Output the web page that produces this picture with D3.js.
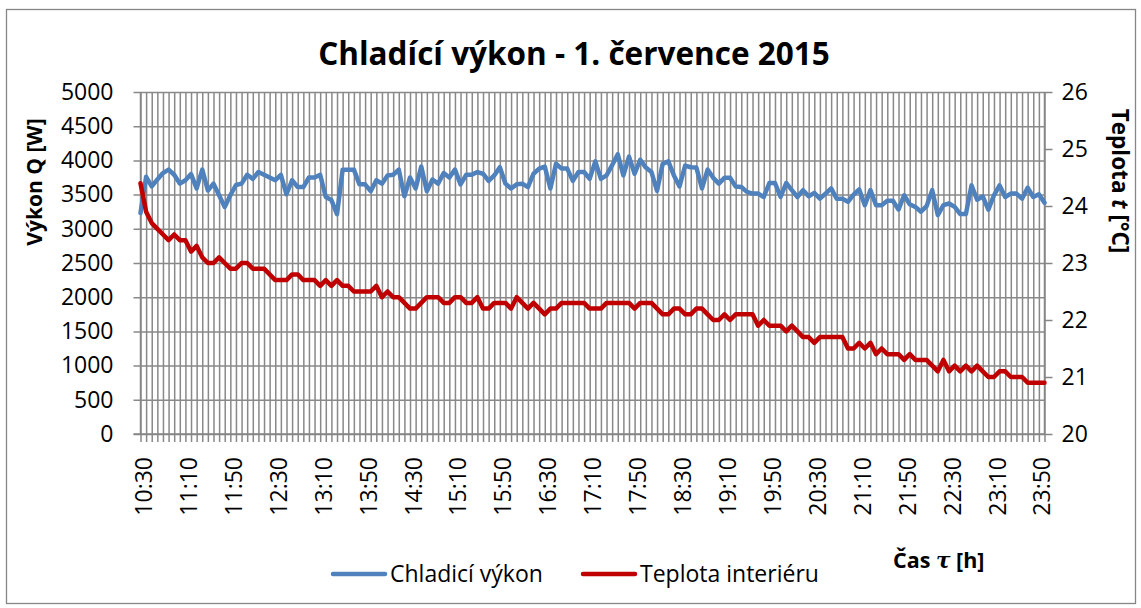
<!DOCTYPE html>
<html>
<head>
<meta charset="utf-8">
<script src="https://cdn.jsdelivr.net/npm/d3@7"></script>
<style>
  body { margin: 0; background: #fff; }
  svg { display: block; }
  text { font-family: "Open Sans", "Noto Sans", sans-serif; fill: #000; }
</style>
</head>
<body>
<svg id="chart" width="1141" height="608"></svg>
<script>
// Measurement every 5 minutes, 10:30 – 23:55
const firstMinute = 10 * 60 + 30;
const stepMinutes = 5;
const pointCount = 162;
const times = d3.range(pointCount).map(i => {
  const m = firstMinute + i * stepMinutes;
  return `${Math.floor(m / 60)}:${String(m % 60).padStart(2, "0")}`;
});

const timeTicks = ["10:30","11:10","11:50","12:30","13:10","13:50","14:30","15:10","15:50","16:30",
  "17:10","17:50","18:30","19:10","19:50","20:30","21:10","21:50","22:30","23:10","23:50"];

// Chladicí výkon [W]
const coolingPower = [
  3230,3760,3620,3720,3815,3865,3790,3660,3710,3800,
  3590,3865,3560,3660,3490,3320,3490,3640,3660,3790,
  3730,3830,3790,3750,3710,3790,3505,3710,3610,3610,
  3750,3750,3790,3465,3420,3215,3865,3865,3865,3650,
  3650,3550,3710,3660,3780,3790,3865,3475,3750,3590,
  3910,3550,3720,3660,3815,3750,3865,3650,3790,3790,
  3830,3805,3700,3780,3900,3660,3590,3650,3660,3610,
  3805,3880,3910,3590,3950,3880,3880,3700,3830,3830,
  3730,3985,3730,3780,3930,4090,3780,4055,3805,4010,
  3895,3830,3555,3950,3985,3780,3620,3925,3900,3895,
  3590,3865,3745,3660,3745,3745,3620,3610,3540,3515,
  3515,3465,3670,3670,3465,3670,3565,3465,3565,3475,
  3525,3440,3515,3590,3440,3440,3395,3500,3575,3345,
  3565,3345,3345,3410,3410,3280,3490,3360,3320,3250,
  3330,3565,3200,3345,3370,3320,3215,3215,3635,3425,
  3475,3280,3490,3635,3465,3515,3515,3440,3600,3465,
  3505,3380
];

// Teplota interiéru [°C]
const indoorTemp = [
  24.4,23.9,23.7,23.6,23.5,23.4,23.5,23.4,23.4,23.2,
  23.3,23.1,23.0,23.0,23.1,23.0,22.9,22.9,23.0,23.0,
  22.9,22.9,22.9,22.8,22.7,22.7,22.7,22.8,22.8,22.7,
  22.7,22.7,22.6,22.7,22.6,22.7,22.6,22.6,22.5,22.5,
  22.5,22.5,22.6,22.4,22.5,22.4,22.4,22.3,22.2,22.2,
  22.3,22.4,22.4,22.4,22.3,22.3,22.4,22.4,22.3,22.3,
  22.4,22.2,22.2,22.3,22.3,22.3,22.2,22.4,22.3,22.2,
  22.3,22.2,22.1,22.2,22.2,22.3,22.3,22.3,22.3,22.3,
  22.2,22.2,22.2,22.3,22.3,22.3,22.3,22.3,22.2,22.3,
  22.3,22.3,22.2,22.1,22.1,22.2,22.2,22.1,22.1,22.2,
  22.2,22.1,22.0,22.0,22.1,22.0,22.1,22.1,22.1,22.1,
  21.9,22.0,21.9,21.9,21.9,21.8,21.9,21.8,21.7,21.7,
  21.6,21.7,21.7,21.7,21.7,21.7,21.5,21.5,21.6,21.5,
  21.6,21.4,21.5,21.4,21.4,21.4,21.3,21.4,21.3,21.3,
  21.3,21.2,21.1,21.3,21.1,21.2,21.1,21.2,21.1,21.2,
  21.1,21.0,21.0,21.1,21.1,21.0,21.0,21.0,20.9,20.9,
  20.9,20.9
];

const powerTicks = [0,500,1000,1500,2000,2500,3000,3500,4000,4500,5000];
const tempTicks = [20,21,22,23,24,25,26];

const gridColor = "#898989";
const axisColor = "#868686";
const powerColor = "#4F81BD";
const tempColor = "#C00000";

const svg = d3.select("#chart");
const plot = { left: 140.5, right: 1044.5, top: 92, bottom: 434 };

const x = d3.scalePoint().domain(times).range([plot.left, plot.right]);
const yP = d3.scaleLinear().domain([0, 5000]).range([plot.bottom, plot.top]);
const yT = d3.scaleLinear().domain([20, 26]).range([plot.bottom, plot.top]);

// chart frame
svg.append("rect")
  .attr("x", 6.5).attr("y", 9.5).attr("width", 1129).attr("height", 594)
  .attr("fill", "#fff").attr("stroke", axisColor).attr("stroke-width", 1.3);

// title
svg.append("text")
  .attr("x", 574).attr("y", 65)
  .attr("text-anchor", "middle")
  .style("font-size", "31.5px").style("font-weight", "bold")
  .text("Chladící výkon - 1. července 2015");

// vertical gridlines + category tick marks
const vGrid = svg.append("g")
  .attr("transform", `translate(0,${plot.top})`)
  .call(d3.axisBottom(x).tickSize(plot.bottom - plot.top + 8).tickFormat(""));
vGrid.select(".domain").remove();
vGrid.selectAll(".tick line").attr("stroke", gridColor).attr("stroke-width", 1.5);

// horizontal gridlines + left axis labels
const leftAxis = svg.append("g")
  .attr("transform", `translate(${plot.right},0)`)
  .call(d3.axisLeft(yP).tickValues(powerTicks).tickFormat(d3.format("d"))
    .tickSize(plot.right - plot.left + 7).tickPadding(20));
leftAxis.select(".domain").remove();
leftAxis.selectAll(".tick line").attr("stroke", gridColor).attr("stroke-width", 1.5);
leftAxis.selectAll(".tick text")
  .style("font-size", "23px").attr("fill", "#000");

// right axis
const rightAxis = svg.append("g")
  .attr("transform", `translate(${plot.right},0)`)
  .call(d3.axisRight(yT).tickValues(tempTicks).tickFormat(d3.format("d"))
    .tickSize(8).tickPadding(9));
rightAxis.select(".domain").remove();
rightAxis.selectAll(".tick line").attr("stroke", axisColor).attr("stroke-width", 1.5);
rightAxis.selectAll(".tick text")
  .style("font-size", "23px").attr("fill", "#000");

// axis lines
svg.append("line")
  .attr("x1", plot.left).attr("x2", plot.left).attr("y1", plot.top).attr("y2", plot.bottom)
  .attr("stroke", axisColor).attr("stroke-width", 1.5);
svg.append("line")
  .attr("x1", plot.right).attr("x2", plot.right).attr("y1", plot.top).attr("y2", plot.bottom)
  .attr("stroke", axisColor).attr("stroke-width", 1.5);
svg.append("line")
  .attr("x1", plot.left - 7).attr("x2", plot.right).attr("y1", plot.bottom).attr("y2", plot.bottom)
  .attr("stroke", axisColor).attr("stroke-width", 1.5);

// time labels, rotated
const timeAxis = svg.append("g")
  .attr("transform", `translate(0,${plot.bottom})`)
  .call(d3.axisBottom(x).tickValues(timeTicks).tickSize(0));
timeAxis.select(".domain").remove();
timeAxis.selectAll(".tick text")
  .style("font-size", "23px").attr("fill", "#000")
  .attr("text-anchor", "end")
  .attr("transform", "translate(3,23) rotate(-90)")
  .attr("x", 0).attr("y", 0).attr("dy", "0.35em");

// series
const linePower = d3.line().x((d, i) => x(times[i])).y(d => yP(d));
const lineTemp = d3.line().x((d, i) => x(times[i])).y(d => yT(d));

svg.append("path").datum(coolingPower)
  .attr("d", linePower).attr("fill", "none")
  .attr("stroke", powerColor).attr("stroke-width", 4.5)
  .attr("stroke-linejoin", "round").attr("stroke-linecap", "round");
svg.append("path").datum(indoorTemp)
  .attr("d", lineTemp).attr("fill", "none")
  .attr("stroke", tempColor).attr("stroke-width", 4.5)
  .attr("stroke-linejoin", "round").attr("stroke-linecap", "round");

// axis titles
svg.append("text")
  .attr("transform", "translate(42,182) rotate(-90)")
  .attr("text-anchor", "middle")
  .style("font-size", "21px").style("font-weight", "bold")
  .text("Výkon Q [W]");

const tTitle = svg.append("text")
  .attr("transform", "translate(1112,181) rotate(90)")
  .attr("text-anchor", "middle")
  .style("font-size", "22.5px").style("font-weight", "bold");
tTitle.append("tspan").text("Teplota ");
tTitle.append("tspan").style("font-style", "italic").text("t");
tTitle.append("tspan").text(" [°C]");

const xTitle = svg.append("text")
  .attr("x", 893).attr("y", 568)
  .style("font-size", "21.5px").style("font-weight", "bold");
xTitle.append("tspan").text("Čas ");
xTitle.append("tspan").style("font-style", "italic").style("font-family", "'DejaVu Serif', serif").text("τ");
xTitle.append("tspan").text(" [h]");

// legend
const legendItems = [
  { label: "Chladicí výkon", color: powerColor, x: 333 },
  { label: "Teplota interiéru", color: tempColor, x: 583 }
];
const legend = svg.append("g");
legendItems.forEach(item => {
  legend.append("line")
    .attr("x1", item.x).attr("x2", item.x + 52)
    .attr("y1", 574).attr("y2", 574)
    .attr("stroke", item.color).attr("stroke-width", 4.5)
    .attr("stroke-linecap", "round");
  legend.append("text")
    .attr("x", item.x + 57).attr("y", 582)
    .style("font-size", "23px")
    .text(item.label);
});
</script>
</body>
</html>
